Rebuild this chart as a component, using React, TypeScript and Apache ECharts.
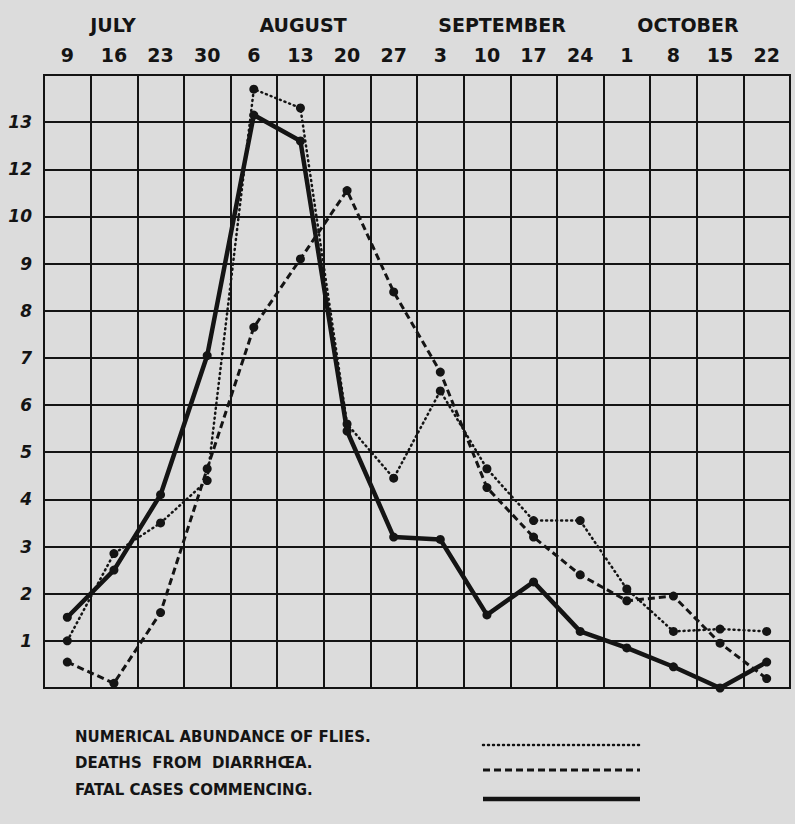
import React, { useEffect, useRef } from "react";
import * as echarts from "echarts";

const days = ["9", "16", "23", "30", "6", "13", "20", "27", "3", "10", "17", "24", "1", "8", "15", "22"];
const months = ["JULY", "AUGUST", "SEPTEMBER", "OCTOBER"];
const yTickLabels = ["", "1", "2", "3", "4", "5", "6", "7", "8", "9", "10", "12", "13", ""];
const seriesNames = ["NUMERICAL ABUNDANCE OF FLIES.", "DEATHS  FROM  DIARRHŒA.", "FATAL CASES COMMENCING."];
const flies = [1.0, 2.85, 3.5, 4.4, 12.7, 12.3, 5.6, 4.45, 6.3, 4.65, 3.55, 3.55, 2.1, 1.2, 1.25, 1.2];
const deaths = [0.55, 0.1, 1.6, 4.65, 7.65, 9.1, 10.55, 8.4, 6.7, 4.25, 3.2, 2.4, 1.85, 1.95, 0.95, 0.2];
const fatal = [1.5, 2.5, 4.1, 7.05, 12.15, 11.6, 5.45, 3.2, 3.15, 1.55, 2.25, 1.2, 0.85, 0.45, 0.0, 0.55];

const INK = "#141414";
const BG = "#dcdcdc";
const FONT = "DejaVu Sans";

export default function App() {
  const ref = useRef<HTMLDivElement>(null);
  useEffect(() => {
    document.body.style.margin = "0";
    document.body.style.background = BG;
    const chart = echarts.init(ref.current!, null, { renderer: "svg" });
    const monthX = [113, 303, 502, 688];
    const legendY = [737, 763, 790];
    const lineY = [745, 770, 799];
    const lineStyles: any[] = [
      { stroke: INK, lineWidth: 2.5, lineDash: [1, 4], lineCap: "round" },
      { stroke: INK, lineWidth: 3, lineDash: [7, 4] },
      { stroke: INK, lineWidth: 4.5 },
    ];
    const graphics: any[] = [];
    months.forEach((m, i) => {
      graphics.push({
        type: "text",
        x: monthX[i],
        y: 25,
        style: { text: m, fill: INK, font: `bold 19px "${FONT}"`, textAlign: "center", textVerticalAlign: "middle" },
      });
    });
    seriesNames.forEach((n, i) => {
      graphics.push({
        type: "text",
        x: 75,
        y: legendY[i],
        style: { text: n, fill: INK, font: `bold 15px "${FONT}"`, textAlign: "left", textVerticalAlign: "middle" },
      });
      graphics.push({
        type: "line",
        shape: { x1: 483, y1: lineY[i], x2: 640, y2: lineY[i] },
        style: lineStyles[i],
      });
    });

    const mk = (name: string, data: number[], ls: any) => ({
      name,
      type: "line",
      data,
      symbol: "circle",
      symbolSize: 9,
      itemStyle: { color: INK },
      lineStyle: ls,
      z: 5,
    });

    chart.setOption({
      animation: false,
      backgroundColor: BG,
      grid: { left: 44, right: 5, top: 75, bottom: 136, show: true, borderColor: INK, borderWidth: 2 },
      xAxis: {
        type: "category",
        position: "top",
        data: days,
        boundaryGap: true,
        axisLine: { show: false },
        axisTick: { show: false },
        axisLabel: { color: INK, fontFamily: FONT, fontWeight: "bold", fontSize: 19, margin: 11 },
        splitLine: { show: true, lineStyle: { color: INK, width: 2 } },
      },
      yAxis: {
        type: "value",
        min: 0,
        max: 13,
        interval: 1,
        axisLine: { show: false },
        axisTick: { show: false },
        axisLabel: {
          color: INK,
          fontFamily: FONT,
          fontWeight: "bold",
          fontStyle: "italic",
          fontSize: 17,
          margin: 12,
          formatter: (v: number) => yTickLabels[Math.round(v)] ?? "",
        },
        splitLine: { show: true, lineStyle: { color: INK, width: 2 } },
      },
      series: [
        mk(seriesNames[0], flies, { color: INK, width: 2.5, type: [1, 4], cap: "round" }),
        mk(seriesNames[1], deaths, { color: INK, width: 3, type: [7, 4] }),
        mk(seriesNames[2], fatal, { color: INK, width: 4.5, type: "solid" }),
      ],
      graphic: graphics,
    });
    return () => chart.dispose();
  }, []);
  return <div ref={ref} style={{ width: 795, height: 824, background: BG }} />;
}
